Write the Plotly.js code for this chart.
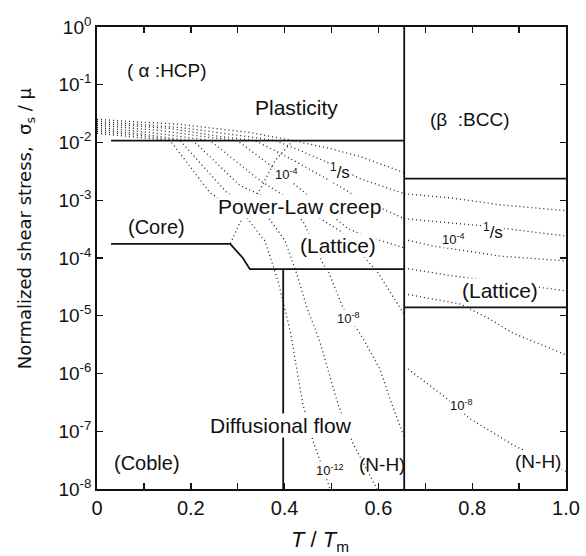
<!DOCTYPE html>
<html>
<head>
<meta charset="utf-8">
<script src="https://cdn.plot.ly/plotly-3.0.1.min.js"></script>
<style>html,body{margin:0;padding:0;background:#fff;}#chart{width:586px;height:556px;}</style>
</head>
<body>
<div id="chart"></div>
<script>
// ---- Data (T/Tm, normalized shear stress) ----
// Mechanism boundaries (solid)
const plastA_T = [0.03, 0.655];
const plastA_S = [0.0108, 0.0108];
const plastB_T = [0.655, 1.0];
const plastB_S = [0.00237, 0.00237];
const core_T = [0.03, 0.284, 0.311, 0.326, 0.655];
const core_S = [1.75e-4, 1.75e-4, 1.0e-4, 6.4e-5, 6.4e-5];
const diffA_T = [0.397, 0.397];
const diffA_S = [6.4e-5, 1e-8];
const phase_T = [0.655, 0.655];
const phase_S = [1e-8, 1];
const latB_T = [0.655, 1.0];
const latB_S = [1.4e-5, 1.4e-5];
// Dotted boundary core / lattice power-law creep
const coreLat_T = [0.418, 0.380, 0.352, 0.305, 0.284];
const coreLat_S = [0.0108, 0.00486, 0.00179, 0.00041, 0.000175];

// Strain-rate contours, alpha (HCP) field
const a1_T = [0, 0.177, 0.326, 0.418, 0.497, 0.561, 0.655];
const a1_S = [0.0251, 0.0206, 0.0149, 0.0108, 0.00787, 0.00571, 0.00301];
const a2_T = [0, 0.177, 0.305, 0.380, 0.433, 0.497, 0.561, 0.655];
const a2_S = [0.0232, 0.0182, 0.0132, 0.0108, 0.00726, 0.00431, 0.00237, 0.00130];
const a3_T = [0, 0.156, 0.262, 0.337, 0.412, 0.497, 0.561, 0.655];
const a3_S = [0.0214, 0.0175, 0.0127, 0.0108, 0.00527, 0.00218, 0.00106, 0.00048];
const a4_T = [0, 0.134, 0.241, 0.299, 0.362, 0.433, 0.533, 0.561, 0.655];
const a4_S = [0.0198, 0.0162, 0.0122, 0.0108, 0.00449, 0.00158, 0.000332, 0.000261, 0.000149];
const a5_T = [0, 0.113, 0.209, 0.241, 0.348, 0.433, 0.518, 0.597, 0.655];
const a5_S = [0.0182, 0.0149, 0.0117, 0.0108, 0.00218, 0.00080, 0.000295, 5.9e-5, 1.06e-5];
const a6_T = [0, 0.102, 0.177, 0.205, 0.305, 0.401, 0.439, 0.482, 0.493, 0.525, 0.567, 0.603, 0.629, 0.650, 0.655];
const a6_S = [0.0168, 0.0138, 0.0113, 0.0108, 0.00179, 0.00080, 0.00044, 7.9e-5, 5.9e-5, 1.35e-5, 4.1e-6, 1.2e-6, 2.9e-7, 1.06e-7, 8.0e-8];
const a7_T = [0, 0.092, 0.156, 0.177, 0.277, 0.358, 0.401, 0.426, 0.448, 0.475, 0.514, 0.546, 0.597];
const a7_S = [0.0155, 0.0132, 0.0113, 0.0108, 0.00135, 0.00061, 0.000198, 5.3e-5, 1.35e-5, 3.6e-6, 2.9e-7, 6.1e-8, 1e-8];
const a8_T = [0, 0.070, 0.134, 0.156, 0.241, 0.316, 0.358, 0.375, 0.386, 0.412, 0.439, 0.461, 0.497];
const a8_S = [0.0144, 0.0127, 0.0113, 0.0108, 0.00135, 0.000537, 0.000198, 7.9e-5, 4.0e-5, 5.4e-6, 2.9e-7, 6.6e-8, 1e-8];

// Strain-rate contours, beta (BCC) field
const b1_T = [0.655, 0.753, 0.859, 1.0];
const b1_S = [0.00130, 0.00110, 0.000835, 0.00066];
const b2_T = [0.655, 0.823, 1.0];
const b2_S = [0.00048, 0.00036, 0.00024];
const b3_T = [0.655, 0.716, 0.859, 1.0];
const b3_S = [0.00021, 0.000162, 0.000108, 8.9e-5];
const b4_T = [0.655, 0.759, 1.0];
const b4_S = [6.7e-5, 4.9e-5, 2.7e-5];
const b5_T = [0.655, 0.774, 0.838, 0.887, 1.0];
const b5_S = [2.4e-5, 1.6e-5, 8.7e-6, 5.0e-6, 2.1e-6];
const b6_T = [0.663, 0.746, 0.795, 0.887, 1.0];
const b6_S = [1.2e-6, 3.7e-7, 1.65e-7, 5.8e-8, 2.0e-8];

// Tick labels
const xTickVals = [0, 0.1, 0.2, 0.3, 0.4, 0.5, 0.6, 0.7, 0.8, 0.9, 1.0];
const xTickText = ['0', '', '0.2', '', '0.4', '', '0.6', '', '0.8', '', '1.0'];
const yTickVals = [1, 1e-1, 1e-2, 1e-3, 1e-4, 1e-5, 1e-6, 1e-7, 1e-8];
const yTickText = ['10<sup>0</sup>', '10<sup>-1</sup>', '10<sup>-2</sup>', '10<sup>-3</sup>', '10<sup>-4</sup>',
                   '10<sup>-5</sup>', '10<sup>-6</sup>', '10<sup>-7</sup>', '10<sup>-8</sup>'];

// ---- Traces ----
const solid = (x, y) => ({x, y, type: 'scatter', mode: 'lines', line: {color: '#111', width: 1.8}, hoverinfo: 'skip'});
const dotted = (x, y) => ({x, y, type: 'scatter', mode: 'lines', line: {color: '#222', width: 1.3, dash: '1px,3px'}, hoverinfo: 'skip'});

const traces = [
  dotted(a1_T, a1_S), dotted(a2_T, a2_S), dotted(a3_T, a3_S), dotted(a4_T, a4_S),
  dotted(a5_T, a5_S), dotted(a6_T, a6_S), dotted(a7_T, a7_S), dotted(a8_T, a8_S),
  dotted(b1_T, b1_S), dotted(b2_T, b2_S), dotted(b3_T, b3_S), dotted(b4_T, b4_S),
  dotted(b5_T, b5_S), dotted(b6_T, b6_S),
  dotted(coreLat_T, coreLat_S),
  solid(plastA_T, plastA_S), solid(plastB_T, plastB_S), solid(core_T, core_S),
  solid(diffA_T, diffA_S), solid(phase_T, phase_S), solid(latB_T, latB_S)
];

const F = 'Liberation Sans, Arial, sans-serif';
const FD = 'DejaVu Sans, Liberation Sans, sans-serif';
function lab(text, x, ly, size, bg) {
  return {text, x, y: ly, xref: 'x', yref: 'y', showarrow: false,
          font: {family: F, size: size || 15, color: '#111'},
          bgcolor: bg ? 'white' : 'rgba(0,0,0,0)', borderpad: 0};
}
const annotations = [
  lab('( α :HCP)', 0.149, -0.75, 19),
  lab('Plasticity', 0.426, -1.39, 21),
  lab('(β  :BCC)', 0.795, -1.60, 19),
  lab('Power-Law creep', 0.431, -3.11, 21, true),
  lab('(Core)', 0.126, -3.46, 20),
  lab('(Lattice)', 0.514, -3.79, 21, true),
  lab('(Lattice)', 0.86, -4.56, 21, true),
  lab('Diffusional flow', 0.393, -6.90, 21, true),
  lab('(Coble)', 0.107, -7.55, 20),
  lab('(N-H)', 0.607, -7.58, 19),
  lab('(N-H)', 0.94, -7.53, 19, true),
  lab('10<sup>-12</sup>', 0.497, -7.67, 13, true),
  lab('10<sup>-8</sup>', 0.537, -5.04, 13, true),
  lab('10<sup>-8</sup>', 0.778, -6.54, 13, true),
  lab('10<sup>-4</sup>', 0.403, -2.54, 13, true),
  lab('<sup>1</sup>/s', 0.518, -2.49, 17, true),
  lab('10<sup>-4</sup>', 0.761, -3.67, 13, true),
  lab('<sup>1</sup>/s', 0.844, -3.53, 17, true),
  // axis titles
  {text: 'Normalized shear stress,  σ<sub>s</sub> / μ', xref: 'paper', yref: 'paper',
   x: -0.151, y: 0.565, xanchor: 'center', yanchor: 'middle', textangle: -90, showarrow: false,
   font: {family: FD, size: 18, color: '#111'}},
  {text: '<i>T</i> / <i>T</i><sub>m</sub>', xref: 'paper', yref: 'paper',
   x: 0.475, y: -0.112, xanchor: 'center', yanchor: 'middle', showarrow: false,
   font: {family: F, size: 22, color: '#111'}}
];

const layout = {
  width: 586, height: 556,
  margin: {l: 97, r: 20, t: 27, b: 67},
  paper_bgcolor: 'white', plot_bgcolor: 'white',
  showlegend: false,
  font: {family: F, color: '#111'},
  xaxis: {
    range: [0, 1], showgrid: false, zeroline: false,
    showline: true, linecolor: '#111', linewidth: 1.8, mirror: 'ticks',
    ticks: 'inside', ticklen: 6, tickcolor: '#111', tickwidth: 1.4,
    tickmode: 'array', tickvals: xTickVals, ticktext: xTickText,
    tickfont: {family: F, size: 20}
  },
  yaxis: {
    type: 'log', range: [-8, 0], showgrid: false, zeroline: false,
    showline: true, linecolor: '#111', linewidth: 1.8, mirror: 'ticks',
    ticks: 'inside', ticklen: 6, tickcolor: '#111', tickwidth: 1.4,
    tickmode: 'array', tickvals: yTickVals, ticktext: yTickText,
    tickfont: {family: F, size: 19}
  },
  annotations
};

Plotly.newPlot('chart', traces, layout, {staticPlot: true, displayModeBar: false});
</script>
</body>
</html>
